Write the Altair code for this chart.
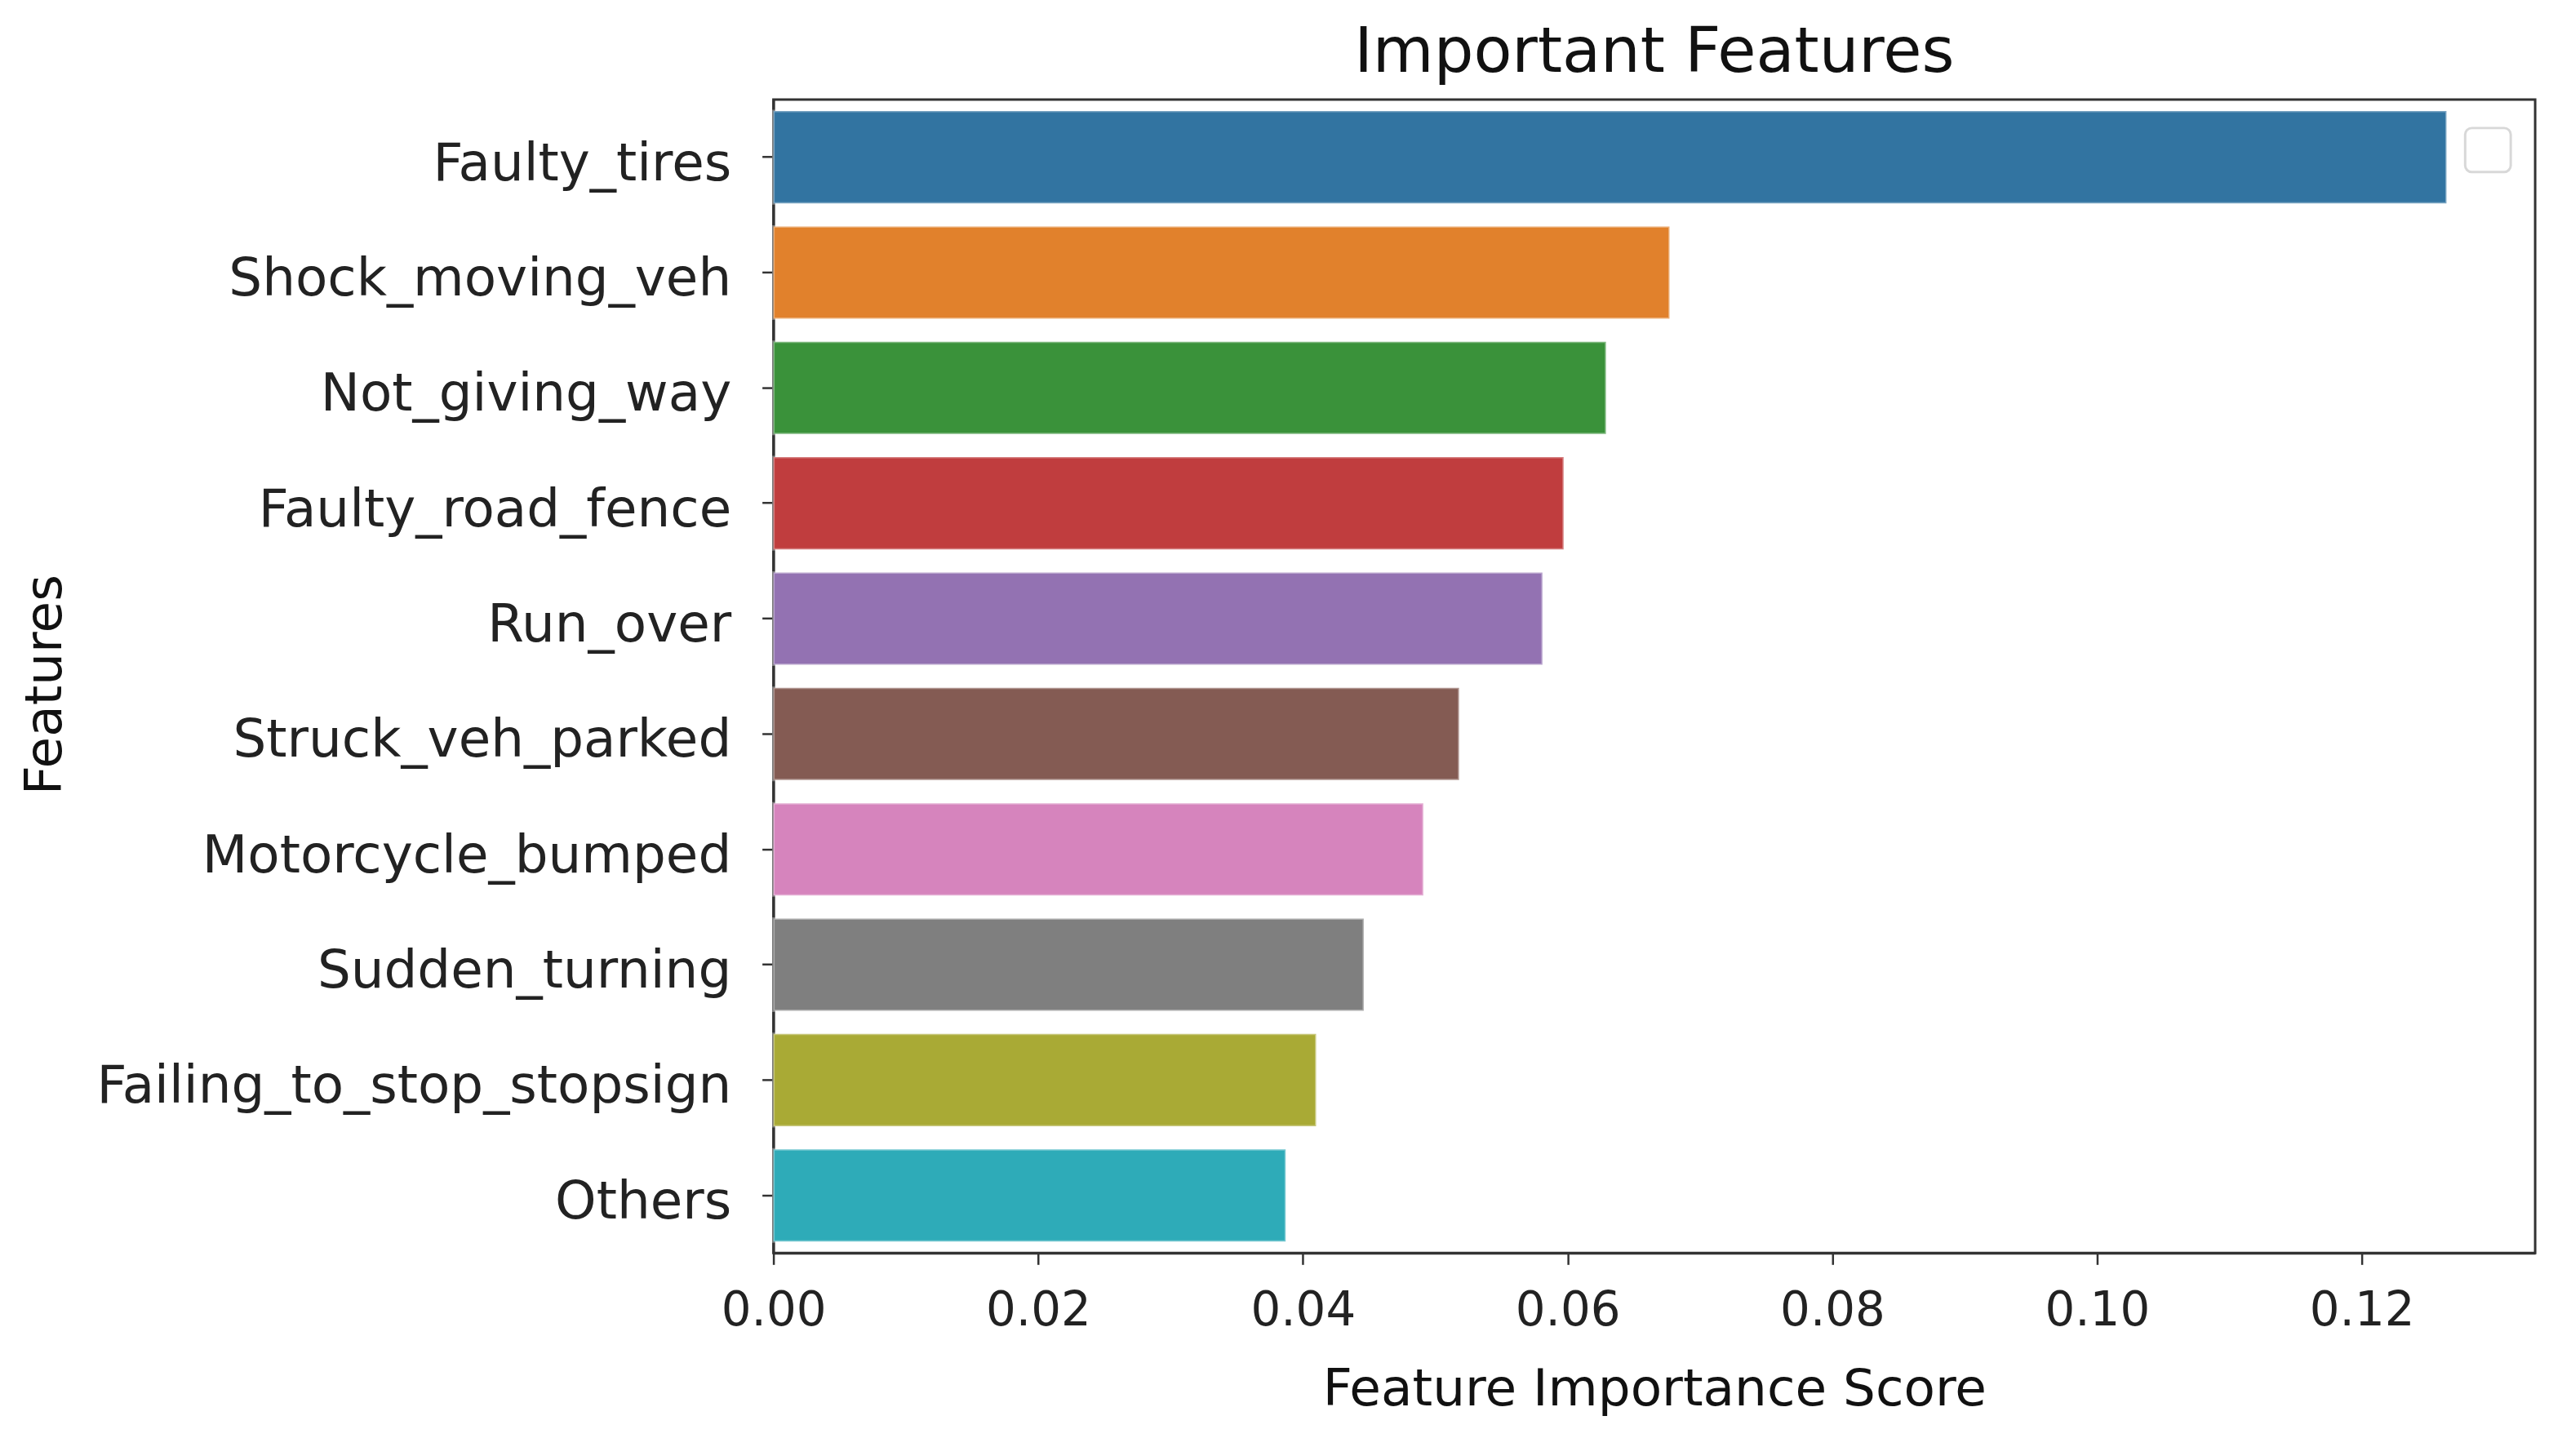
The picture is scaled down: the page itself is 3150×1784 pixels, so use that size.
import altair as alt
import pandas as pd

features = ["Faulty_tires", "Shock_moving_veh", "Not_giving_way", "Faulty_road_fence",
            "Run_over", "Struck_veh_parked", "Motorcycle_bumped", "Sudden_turning",
            "Failing_to_stop_stopsign", "Others"]
scores = [0.1264, 0.0677, 0.0629, 0.0597, 0.0581, 0.0518, 0.0491, 0.0446, 0.0410, 0.0387]
colors = ["#3274a1", "#e1812c", "#3a923a", "#c03d3e", "#9372b2",
          "#845b53", "#d684bd", "#7f7f7f", "#a9aa35", "#2eabb8"]
x_ticks = [0.00, 0.02, 0.04, 0.06, 0.08, 0.10, 0.12]

df = pd.DataFrame({"feature": features, "score": scores})

W, H = 2164, 1417
FONT = "DejaVu Sans"

bars = alt.Chart(df).mark_bar(stroke="white", strokeOpacity=0.35, strokeWidth=3).encode(
    y=alt.Y("feature:N", sort=features,
            scale=alt.Scale(paddingInner=0.2, paddingOuter=0.1),
            axis=alt.Axis(title="Features", titleFont=FONT, titleFontSize=63,
                          titleFontWeight="normal", titleColor="#111",
                          titleAngle=270, titleX=-894, titleY=H / 2 + 10,
                          titleAlign="center", titleBaseline="middle",
                          labelFont=FONT, labelFontSize=64.5, labelColor="#222",
                          labelPadding=38, labelOffset=9, tickSize=14, tickWidth=2.5,
                          tickColor="#333", domainColor="#333", domainWidth=3,
                          labelLimit=2000)),
    x=alt.X("score:Q", scale=alt.Scale(domain=[0, 0.1331], nice=False),
            axis=alt.Axis(title="Feature Importance Score", values=x_ticks, format=".2f",
                          titleFont=FONT, titleFontSize=63, titleFontWeight="normal",
                          titleColor="#111", titleY=168, titleBaseline="middle",
                          labelFont=FONT, labelFontSize=58, labelColor="#222",
                          labelPadding=28, labelFlush=False, tickSize=14, tickWidth=2.5,
                          tickColor="#333", domainColor="#333", domainWidth=3,
                          grid=False)),
    color=alt.Color("feature:N", sort=features,
                    scale=alt.Scale(domain=features, range=colors), legend=None),
)

legend_box = alt.Chart(pd.DataFrame({"k": [0]})).mark_rect(
    fill="white", stroke="#d8d8d8", strokeWidth=3, cornerRadius=8
).encode(x=alt.value(2078), x2=alt.value(2134), y=alt.value(35), y2=alt.value(89))

chart = (bars + legend_box).properties(
    width=W, height=H,
    background="white",
    title=alt.TitleParams("Important Features", font=FONT, fontSize=77,
                          fontWeight="normal", color="#111", baseline="middle",
                          offset=-20, anchor="middle"),
    padding={"left": 942, "top": 112, "right": 36, "bottom": 239},
    autosize=alt.AutoSizeParams(type="none"),
).configure_view(stroke="#333", strokeWidth=3)

chart.save("out.html", embed_options={"renderer": "svg", "actions": False})
